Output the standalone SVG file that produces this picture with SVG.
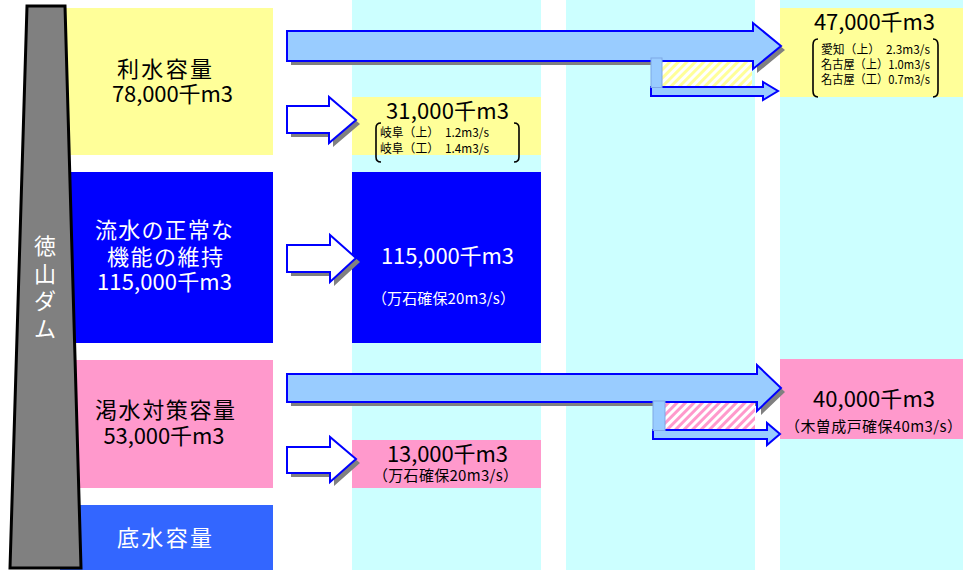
<svg xmlns="http://www.w3.org/2000/svg" width="963" height="570" viewBox="0 0 963 570">
<style>
.t{font-family:"Noto Sans CJK JP","Noto Sans",sans-serif;}
.big{font-size:22px;}
.mid{font-size:15px;}
.sm{font-size:12px;}
.w{fill:#fff;}
.k{fill:#000;}
.c{text-anchor:middle;}
.shadow{fill:#808080;}
.barrow{fill:#99CCFF;stroke:#0000FF;stroke-width:2;stroke-linejoin:miter;}
.warrow{fill:#fff;stroke:#0000FF;stroke-width:2;}
.bracket{fill:none;stroke:#000;stroke-width:1.6;}
</style>
<defs>
<pattern id="hatchY" width="6" height="6" patternUnits="userSpaceOnUse" patternTransform="rotate(45)">
<rect width="6" height="6" fill="#FFFFFF"/>
<rect width="3" height="6" fill="#FFFF99"/>
</pattern>
<pattern id="hatchP" width="6" height="6" patternUnits="userSpaceOnUse" patternTransform="rotate(45)">
<rect width="6" height="6" fill="#FFFFFF"/>
<rect width="3" height="6" fill="#FF99CC"/>
</pattern>
</defs>
<rect width="963" height="570" fill="#fff"/>
<g id="columns">
<rect x="352" y="0" width="189" height="570" fill="#CCFFFF"/>
<rect x="566" y="0" width="189" height="570" fill="#CCFFFF"/>
<rect x="780" y="0" width="183" height="570" fill="#CCFFFF"/>
</g>
<g id="rimizu">
<rect x="60" y="8" width="213" height="147" fill="#FFFF99"/>
<text class="t big k c" x="164.5" y="77" textLength="95">利水容量</text>
<text class="t big k c" x="172.5" y="102" textLength="121">78,000千m3</text>
</g>
<g id="ryusui">
<rect x="60" y="172" width="213" height="171" fill="#0000FF"/>
<text class="t big w c" x="164" y="238" textLength="138">流水の正常な</text>
<text class="t big w c" x="165" y="265" textLength="116">機能の維持</text>
<text class="t big w c" x="164.5" y="290" textLength="135">115,000千m3</text>
</g>
<g id="kassui">
<rect x="60" y="360" width="213" height="128" fill="#FF99CC"/>
<text class="t big k c" x="165" y="418" textLength="140">渇水対策容量</text>
<text class="t big k c" x="164" y="444" textLength="121">53,000千m3</text>
</g>
<g id="teisui">
<rect x="60" y="505" width="213" height="65" fill="#3366FF"/>
<text class="t big w c" x="164.5" y="546" textLength="95">底水容量</text>
</g>
<g id="dam">
<polygon points="27,6 65,6 81,568 10,568" fill="#808080" stroke="#000" stroke-width="3" stroke-linejoin="miter"/>
<text class="t big w c" x="45" y="254">徳<tspan x="45" dy="27.7">山</tspan><tspan x="45" dy="27.7">ダ</tspan><tspan x="45" dy="27.7">ム</tspan></text>
</g>
<g id="gifu">
<rect x="352" y="97" width="189" height="58" fill="#FFFF99"/>
<text class="t big k c" x="447.5" y="119" textLength="123">31,000千m3</text>
<path class="bracket" d="M381,123 Q376,123 376,128 L376,157 Q376,162 381,162"/>
<path class="bracket" d="M514,123 Q519,123 519,128 L519,157 Q519,162 514,162"/>
<text class="t sm k" x="380" y="137" textLength="109" lengthAdjust="spacingAndGlyphs">岐阜（上）　1.2m3/s</text>
<text class="t sm k" x="380" y="153" textLength="109" lengthAdjust="spacingAndGlyphs">岐阜（工）　1.4m3/s</text>
</g>
<g id="aichi">
<rect x="780" y="8" width="183" height="89" fill="#FFFF99"/>
<text class="t big k c" x="874.5" y="30" textLength="121">47,000千m3</text>
<path class="bracket" d="M818,39 Q813,39 813,45 L813,91 Q813,97 818,97"/>
<path class="bracket" d="M933,39 Q938,39 938,45 L938,91 Q938,97 933,97"/>
<text class="t sm k" x="821" y="54" textLength="109" lengthAdjust="spacingAndGlyphs">愛知（上）　2.3m3/s</text>
<text class="t sm k" x="821" y="69" textLength="109" lengthAdjust="spacingAndGlyphs">名古屋（上）1.0m3/s</text>
<text class="t sm k" x="821" y="84" textLength="109" lengthAdjust="spacingAndGlyphs">名古屋（工）0.7m3/s</text>
</g>
<g id="mangoku1">
<rect x="352" y="172" width="189" height="171" fill="#0000FF"/>
<text class="t big w c" x="447.5" y="264" textLength="133">115,000千m3</text>
<text class="t mid w c" x="443.5" y="304" textLength="143">（万石確保20m3/s）</text>
</g>
<g id="mangoku2">
<rect x="352" y="440" width="189" height="48" fill="#FF99CC"/>
<text class="t big k c" x="447.5" y="462" textLength="121">13,000千m3</text>
<text class="t mid k c" x="445.5" y="481" textLength="145">（万石確保20m3/s）</text>
</g>
<g id="kisonaruto">
<rect x="780" y="359" width="183" height="80" fill="#FF99CC"/>
<text class="t big k c" x="874" y="407" textLength="122">40,000千m3</text>
<text class="t mid k c" x="873.5" y="432" textLength="177">（木曽成戸確保40m3/s）</text>
</g>
<g id="connectors">
<polygon class="shadow" points="291,35 757,35 757,27 785,50 757,73 757,65 291,65"/>
<rect x="662" y="62" width="90" height="25" fill="url(#hatchY)"/>
<polygon class="barrow" points="287,31 753,31 753,23 781,46 753,69 753,61 287,61"/>
<polygon class="barrow" stroke-width="1.8" points="651,87 763,87 763,82 778,91 763,100 763,96 651,96"/>
<rect x="651" y="58" width="11" height="29.5" fill="#99CCFF" stroke="#7FA8E6" stroke-width="1"/>
<polygon class="shadow" points="291,378 761,378 761,369 785,392 761,415 761,406 291,406"/>
<rect x="665" y="403" width="90" height="27" fill="url(#hatchP)"/>
<polygon class="barrow" points="287,374 757,374 757,365 781,388 757,411 757,402 287,402"/>
<polygon class="barrow" stroke-width="1.8" points="653,430 767,430 767,423 780,434 767,445 767,439 653,439"/>
<rect x="653" y="401" width="12" height="29.5" fill="#99CCFF" stroke="#7FA8E6" stroke-width="1"/>
<polygon class="shadow" points="291,110 333,110 333,101 360,124 333,147 333,137 291,137"/>
<polygon class="warrow" points="287,106 329,106 329,97 356,120 329,143 329,133 287,133"/>
<polygon class="shadow" points="291,249 334,249 334,239 360,262 334,286 334,276 291,276"/>
<polygon class="warrow" points="287,245 330,245 330,235 356,258 330,282 330,272 287,272"/>
<polygon class="shadow" points="291,451 334,451 334,441 360,463 334,486 334,477 291,477"/>
<polygon class="warrow" points="287,447 330,447 330,437 356,459 330,482 330,473 287,473"/>
</g>
</svg>
